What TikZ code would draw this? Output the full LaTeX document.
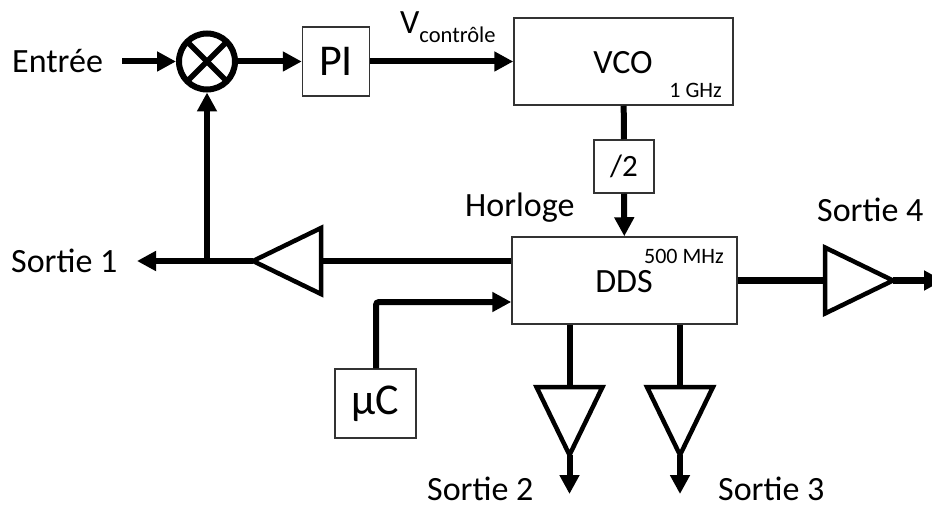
\documentclass[tikz,border=0pt]{standalone}
\usepackage{fontspec}
\setmainfont{Carlito}
\usetikzlibrary{arrows.meta,shapes.geometric}
\tikzset{
  bloc/.style={draw=black!80, line width=1.5pt, inner sep=0pt},
  ampli/.style={isosceles triangle, draw, line width=4.5pt, miter limit=10, inner sep=0pt, outer sep=0pt,
    isosceles triangle stretches, minimum width=66pt, minimum height=68pt,
    shape border rotate=#1},
  mixeur/.style={circle, draw, line width=6pt, minimum size=56pt, inner sep=0pt,
    path picture={
      \draw[line width=5.5pt] (path picture bounding box.north west) -- (path picture bounding box.south east);
      \draw[line width=5.5pt] (path picture bounding box.north east) -- (path picture bounding box.south west);
    }},
  liaison/.style={line width=6pt},
  fleche/.style={line width=6pt, -{Triangle[length=19pt,width=19pt]}},
  texte/.style={inner sep=0pt, font=\fontsize{34}{40}\selectfont},
  petit/.style={inner sep=0pt, font=\fontsize{22}{26}\selectfont}
}
\begin{document}
\begin{tikzpicture}[x=1pt, y=-1pt]
    \useasboundingbox (0,0) rectangle (932,505);

    % blocs
    \node[mixeur] (mix) at (207,61.5) {};
    \node[bloc, minimum width=67pt, minimum height=69pt, font=\fontsize{44}{50}\selectfont] (pi) at (336,61.5) {PI};
    \node[bloc, minimum width=219pt, minimum height=87pt] (vco) at (623.5,61.5) {};
    \node[bloc, minimum width=60pt, minimum height=53pt, font=\fontsize{31}{36}\selectfont] (div) at (624,166.5) {/2};
    \node[bloc, minimum width=225pt, minimum height=87pt] (dds) at (624.5,280.5) {};
    \node[bloc, minimum width=81pt, minimum height=69pt, font=\fontsize{44}{50}\selectfont] (uc) at (375.5,403.5) {µC};

    % amplis
    \node[ampli=180, anchor=apex] (a1) at (253,261) {};
    \node[ampli=0, anchor=apex] (a4) at (893,280.5) {};
    \node[ampli=-90, anchor=apex] (a2) at (569.5,455) {};
    \node[ampli=-90, anchor=apex] (a3) at (680,455) {};

    % textes
    \node[texte, anchor=west] (entree) at (12,61) {Entrée};
    \node[texte, anchor=west] (s1) at (11,261) {Sortie 1};
    \node[texte, anchor=west] (s2) at (427,489) {Sortie 2};
    \node[texte, anchor=west] (s3) at (718,489) {Sortie 3};
    \node[texte, anchor=west] (s4) at (817,210) {Sortie 4};
    \node[texte, anchor=west] (hor) at (465,208) {Horloge};
    \node[texte, anchor=west] (vc) at (400,27) {V\raisebox{-9pt}{\fontsize{22.5}{26}\selectfont contrôle}};
    \node[texte] (tvco) at (623,63) {VCO};
    \node[texte] (tdds) at (624,282) {DDS};
    \node[petit, anchor=east] (ghz) at (722,90) {1 GHz};
    \node[petit, anchor=east] (mhz) at (724,256) {500 MHz};

    % extremites libres
    \coordinate (cin) at (122,61.5);
    \coordinate (cs1) at (137,261);
    \coordinate (cs2) at (569.5,494);
    \coordinate (cs3) at (680,494);
    \coordinate (cs4) at (943,280.5);
    \coordinate (noeud) at (207,261);
    \coordinate (coude) at (376,302);

    % liaisons
    \draw[fleche] (cin) -- (mix);
    \draw[fleche] (mix) -- (pi);
    \draw[fleche] (pi) -- (vco);
    \draw[liaison] (vco) -- (div);
    \draw[fleche] (div) -- (dds);
    \draw[liaison] (dds.west |- a1.lower side) -- (a1.lower side);
    \draw[fleche] (a1.apex) -- (cs1);
    \draw[fleche] (noeud) -- (mix);
    \draw[fleche, rounded corners=3pt] (uc.north -| coude) -- (coude) -- (coude -| dds.west);
    \draw[liaison] (dds.east |- a4.lower side) -- (a4.lower side);
    \draw[fleche] (a4.apex) -- (cs4);
    \draw[liaison] (dds.south -| a2.lower side) -- (a2.lower side);
    \draw[liaison] (dds.south -| a3.lower side) -- (a3.lower side);
    \draw[fleche] (a2.apex) -- (cs2);
    \draw[fleche] (a3.apex) -- (cs3);

\end{tikzpicture}
\end{document}
